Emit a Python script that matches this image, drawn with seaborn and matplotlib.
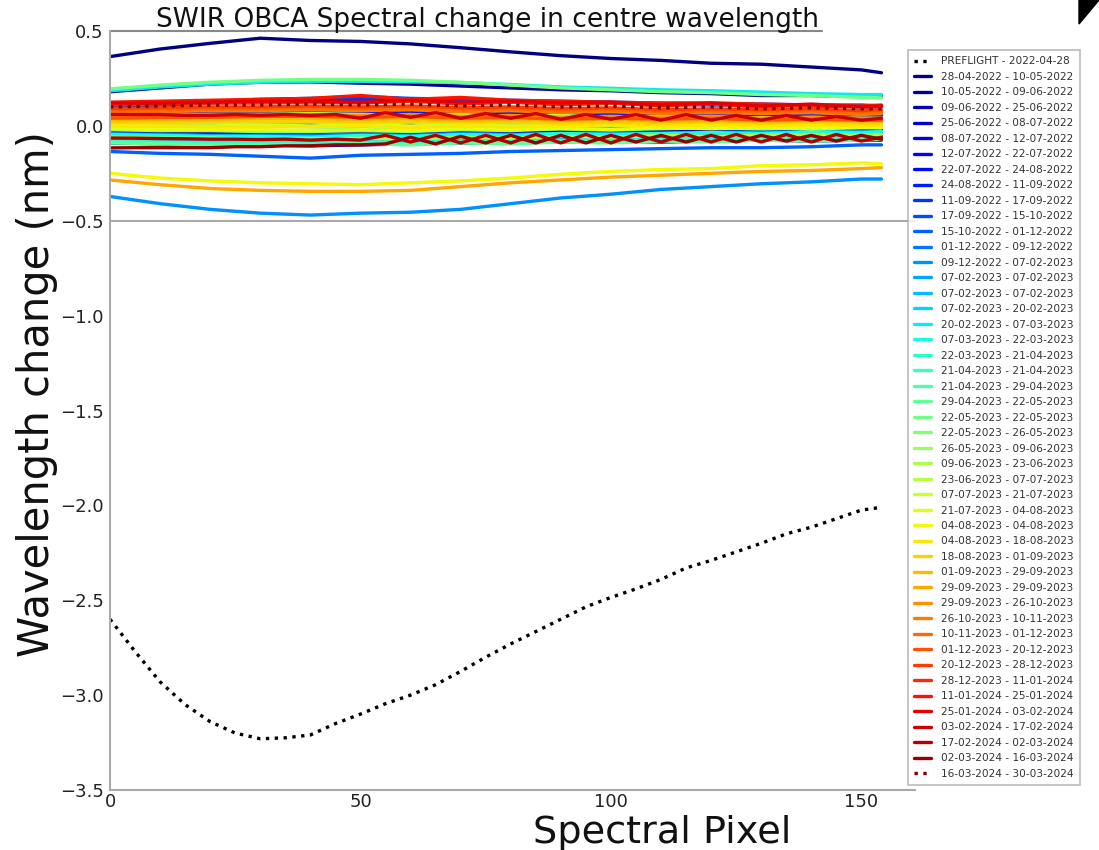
import numpy as np
import matplotlib
matplotlib.use("Agg")
import matplotlib.pyplot as plt
import seaborn as sns
from matplotlib.patches import Polygon

# ---------------- data ----------------
PIX = [0, 10, 20, 30, 40, 50, 60, 70, 80, 90, 100, 110, 120, 130, 140, 150, 154]
PIX_FINE = [0, 5, 10, 15, 20, 25, 30, 35, 40, 45, 50, 55, 60, 65, 70, 75, 80, 85,
            90, 95, 100, 105, 110, 115, 120, 125, 130, 135, 140, 145, 150, 154]

PREFLIGHT_LABEL = "PREFLIGHT - 2022-04-28"
PREFLIGHT = [-2.60, -2.77, -2.93, -3.05, -3.14, -3.20, -3.23, -3.225, -3.21, -3.15,
             -3.10, -3.045, -3.00, -2.945, -2.875, -2.80, -2.73, -2.665, -2.60, -2.535,
             -2.485, -2.44, -2.39, -2.33, -2.29, -2.245, -2.20, -2.15, -2.115, -2.07,
             -2.025, -2.01]

LABELS = [
    "28-04-2022 - 10-05-2022", "10-05-2022 - 09-06-2022", "09-06-2022 - 25-06-2022",
    "25-06-2022 - 08-07-2022", "08-07-2022 - 12-07-2022", "12-07-2022 - 22-07-2022",
    "22-07-2022 - 24-08-2022", "24-08-2022 - 11-09-2022", "11-09-2022 - 17-09-2022",
    "17-09-2022 - 15-10-2022", "15-10-2022 - 01-12-2022", "01-12-2022 - 09-12-2022",
    "09-12-2022 - 07-02-2023", "07-02-2023 - 07-02-2023", "07-02-2023 - 07-02-2023",
    "07-02-2023 - 20-02-2023", "20-02-2023 - 07-03-2023", "07-03-2023 - 22-03-2023",
    "22-03-2023 - 21-04-2023", "21-04-2023 - 21-04-2023", "21-04-2023 - 29-04-2023",
    "29-04-2023 - 22-05-2023", "22-05-2023 - 22-05-2023", "22-05-2023 - 26-05-2023",
    "26-05-2023 - 09-06-2023", "09-06-2023 - 23-06-2023", "23-06-2023 - 07-07-2023",
    "07-07-2023 - 21-07-2023", "21-07-2023 - 04-08-2023", "04-08-2023 - 04-08-2023",
    "04-08-2023 - 18-08-2023", "18-08-2023 - 01-09-2023", "01-09-2023 - 29-09-2023",
    "29-09-2023 - 29-09-2023", "29-09-2023 - 26-10-2023", "26-10-2023 - 10-11-2023",
    "10-11-2023 - 01-12-2023", "01-12-2023 - 20-12-2023", "20-12-2023 - 28-12-2023",
    "28-12-2023 - 11-01-2024", "11-01-2024 - 25-01-2024", "25-01-2024 - 03-02-2024",
    "03-02-2024 - 17-02-2024", "17-02-2024 - 02-03-2024", "02-03-2024 - 16-03-2024",
    "16-03-2024 - 30-03-2024",
]

S00 = [0.365, 0.405, 0.435, 0.462, 0.45, 0.445, 0.432, 0.412, 0.39, 0.37, 0.355, 0.345, 0.33, 0.325, 0.31, 0.295, 0.28]
S01 = [0.18, 0.20, 0.22, 0.23, 0.232, 0.225, 0.22, 0.21, 0.20, 0.19, 0.185, 0.175, 0.17, 0.16, 0.16, 0.155, 0.16]
S02 = [-0.09, -0.095, -0.10, -0.10, -0.105, -0.10, -0.095, -0.09, -0.09, -0.085, -0.08, -0.085, -0.08, -0.075, -0.08, -0.075, -0.075]
S03 = [0.0, 0.0, 0.005, 0.005, 0.005, 0.0, 0.005, 0.0, 0.0, -0.005, 0.0, -0.005, 0.0, 0.0, -0.005, 0.0, 0.0]
S04 = [-0.03, -0.03, -0.035, -0.035, -0.035, -0.03, -0.035, -0.025, -0.03, -0.025, -0.03, -0.025, -0.02, -0.025, -0.02, -0.025, -0.02]
S05 = [0.03, 0.035, 0.035, 0.04, 0.04, 0.04, 0.035, 0.04, 0.03, 0.035, 0.03, 0.035, 0.03, 0.025, 0.03, 0.025, 0.03]
S06 = [-0.06, -0.065, -0.07, -0.07, -0.075, -0.07, -0.065, -0.07, -0.06, -0.065, -0.055, -0.06, -0.055, -0.06, -0.05, -0.055, -0.05]
S07 = [0.06, 0.065, 0.07, 0.075, 0.075, 0.07, 0.075, 0.065, 0.07, 0.06, 0.065, 0.06, 0.055, 0.06, 0.055, 0.05, 0.055]
S08 = [0.10, 0.11, 0.12, 0.13, 0.135, 0.14, 0.135, 0.13, 0.125, 0.12, 0.12, 0.115, 0.11, 0.11, 0.105, 0.10, 0.10]
S09 = [0.11, 0.12, 0.13, 0.14, 0.145, 0.155, 0.145, 0.14, 0.135, 0.13, 0.125, 0.12, 0.12, 0.115, 0.11, 0.11, 0.105]
S10 = [-0.135, -0.145, -0.15, -0.16, -0.17, -0.155, -0.15, -0.145, -0.135, -0.13, -0.125, -0.12, -0.115, -0.115, -0.11, -0.10, -0.10]
S11 = [-0.04, -0.045, -0.05, -0.05, -0.05, -0.045, -0.05, -0.04, -0.045, -0.04, -0.035, -0.04, -0.035, -0.03, -0.035, -0.03, -0.03]
S12 = [-0.372, -0.41, -0.44, -0.46, -0.47, -0.46, -0.455, -0.44, -0.41, -0.38, -0.36, -0.335, -0.32, -0.305, -0.295, -0.28, -0.28]
S13 = [-0.05, -0.055, -0.06, -0.06, -0.06, -0.055, -0.06, -0.05, -0.055, -0.045, -0.05, -0.045, -0.04, -0.045, -0.04, -0.035, -0.04]
S14 = [0.02, 0.02, 0.025, 0.025, 0.03, 0.025, 0.02, 0.025, 0.02, 0.015, 0.02, 0.015, 0.02, 0.015, 0.01, 0.015, 0.01]
S15 = [-0.07, -0.075, -0.08, -0.08, -0.085, -0.08, -0.075, -0.08, -0.07, -0.075, -0.065, -0.07, -0.06, -0.065, -0.06, -0.055, -0.06]
S16 = [0.185, 0.205, 0.22, 0.23, 0.235, 0.235, 0.232, 0.228, 0.218, 0.205, 0.198, 0.19, 0.185, 0.178, 0.17, 0.165, 0.165]
S17 = [-0.045, -0.05, -0.055, -0.055, -0.06, -0.05, -0.055, -0.045, -0.05, -0.04, -0.045, -0.04, -0.035, -0.04, -0.03, -0.035, -0.03]
S18 = [-0.08, -0.085, -0.09, -0.09, -0.09, -0.085, -0.09, -0.08, -0.085, -0.075, -0.08, -0.07, -0.075, -0.065, -0.07, -0.065, -0.06]
S19 = [0.0, -0.005, -0.005, 0.0, -0.005, -0.01, -0.005, 0.0, -0.01, -0.005, 0.0, -0.005, 0.005, 0.0, -0.005, 0.0, 0.0]
S20 = [0.04, 0.045, 0.05, 0.05, 0.055, 0.05, 0.045, 0.05, 0.04, 0.045, 0.035, 0.04, 0.035, 0.04, 0.03, 0.035, 0.03]
S21 = [-0.09, -0.095, -0.10, -0.10, -0.10, -0.095, -0.10, -0.09, -0.095, -0.085, -0.09, -0.08, -0.085, -0.075, -0.08, -0.075, -0.07]
S22 = [0.195, 0.215, 0.23, 0.24, 0.245, 0.245, 0.24, 0.23, 0.215, 0.20, 0.19, 0.18, 0.175, 0.165, 0.16, 0.15, 0.148]
S23 = [-0.02, -0.025, -0.025, -0.03, -0.03, -0.025, -0.03, -0.02, -0.025, -0.015, -0.02, -0.015, -0.01, -0.015, -0.01, -0.005, -0.01]
S24 = [0.01, 0.015, 0.015, 0.02, 0.02, 0.015, 0.02, 0.01, 0.015, 0.01, 0.015, 0.005, 0.01, 0.005, 0.01, 0.005, 0.005]
S25 = [-0.06, -0.065, -0.065, -0.07, -0.07, -0.065, -0.07, -0.06, -0.065, -0.055, -0.06, -0.05, -0.055, -0.05, -0.045, -0.05, -0.045]
S26 = [0.05, 0.055, 0.06, 0.06, 0.065, 0.06, 0.055, 0.06, 0.05, 0.055, 0.045, 0.05, 0.045, 0.04, 0.045, 0.04, 0.04]
S27 = [0.0, 0.0, 0.0, 0.005, 0.0, 0.005, 0.0, 0.005, 0.0, 0.0, 0.005, 0.0, 0.005, 0.0, 0.0, 0.005, 0.0]
S28 = [-0.015, -0.02, -0.02, -0.02, -0.025, -0.02, -0.025, -0.015, -0.02, -0.015, -0.02, -0.01, -0.015, -0.01, -0.015, -0.01, -0.01]
S29 = [-0.25, -0.275, -0.29, -0.30, -0.305, -0.31, -0.30, -0.29, -0.275, -0.255, -0.24, -0.23, -0.225, -0.21, -0.205, -0.195, -0.20]
S30 = [0.0, 0.0, -0.005, -0.005, -0.005, 0.0, -0.01, 0.0, -0.005, 0.0, 0.005, 0.0, 0.005, 0.0, 0.005, 0.0, 0.005]
S31 = [0.02, 0.02, 0.025, 0.025, 0.025, 0.02, 0.025, 0.02, 0.02, 0.015, 0.02, 0.015, 0.02, 0.015, 0.02, 0.015, 0.015]
S32 = [0.03, 0.035, 0.035, 0.04, 0.04, 0.035, 0.04, 0.03, 0.035, 0.03, 0.035, 0.025, 0.03, 0.025, 0.03, 0.025, 0.025]
S33 = [-0.285, -0.31, -0.33, -0.34, -0.345, -0.345, -0.34, -0.32, -0.30, -0.285, -0.27, -0.26, -0.25, -0.24, -0.235, -0.225, -0.22]
S34 = [0.05, 0.055, 0.06, 0.06, 0.06, 0.055, 0.06, 0.05, 0.055, 0.045, 0.05, 0.045, 0.05, 0.04, 0.045, 0.04, 0.04]
S35 = [0.07, 0.075, 0.08, 0.08, 0.085, 0.08, 0.085, 0.075, 0.08, 0.07, 0.075, 0.065, 0.07, 0.065, 0.07, 0.06, 0.065]
S36 = [0.08, 0.085, 0.09, 0.09, 0.095, 0.09, 0.095, 0.085, 0.09, 0.08, 0.085, 0.075, 0.08, 0.075, 0.08, 0.07, 0.075]
S37 = [0.04, 0.045, 0.045, 0.05, 0.05, 0.045, 0.05, 0.04, 0.045, 0.035, 0.04, 0.035, 0.04, 0.03, 0.035, 0.03, 0.03]
S38 = [0.09, 0.095, 0.10, 0.10, 0.105, 0.10, 0.105, 0.095, 0.10, 0.09, 0.095, 0.085, 0.09, 0.085, 0.09, 0.08, 0.085]
S39 = [0.11, 0.115, 0.12, 0.12, 0.125, 0.12, 0.13, 0.115, 0.125, 0.11, 0.12, 0.105, 0.115, 0.10, 0.11, 0.10, 0.10]
S40 = [0.125, 0.13, 0.135, 0.14, 0.145, 0.16, 0.14, 0.15, 0.135, 0.13, 0.125, 0.12, 0.12, 0.115, 0.11, 0.105, 0.11]
S41 = [0.12, 0.12, 0.125, 0.13, 0.13, 0.125, 0.135, 0.125, 0.13, 0.12, 0.125, 0.11, 0.12, 0.105, 0.115, 0.10, 0.105]
S42 = [0.06, 0.06, 0.06, 0.055, 0.055, 0.06, 0.055, 0.06, 0.055, 0.06, 0.04, 0.07, 0.045, 0.07, 0.04, 0.065,
       0.04, 0.065, 0.035, 0.06, 0.035, 0.06, 0.03, 0.06, 0.03, 0.055, 0.03, 0.055, 0.03, 0.05, 0.03, 0.04]
S43 = [-0.064, -0.065, -0.067, -0.068, -0.07, -0.07, -0.072, -0.07, -0.075, -0.07, -0.075, -0.05, -0.085, -0.05, -0.09, -0.05,
       -0.09, -0.045, -0.09, -0.045, -0.09, -0.045, -0.085, -0.045, -0.085, -0.045, -0.085, -0.045, -0.085, -0.045, -0.08, -0.06]
S44 = [-0.116, -0.115, -0.115, -0.115, -0.115, -0.11, -0.11, -0.105, -0.105, -0.10, -0.10, -0.095, -0.06, -0.095, -0.055, -0.09,
       -0.05, -0.09, -0.05, -0.09, -0.05, -0.085, -0.05, -0.085, -0.05, -0.085, -0.05, -0.08, -0.05, -0.08, -0.05, -0.07]
S45 = [0.10, 0.105, 0.11, 0.11, 0.115, 0.11, 0.115, 0.105, 0.11, 0.10, 0.105, 0.095, 0.10, 0.09, 0.095, 0.09, 0.09]

SERIES = [S00, S01, S02, S03, S04, S05, S06, S07, S08, S09, S10, S11, S12, S13, S14, S15,
          S16, S17, S18, S19, S20, S21, S22, S23, S24, S25, S26, S27, S28, S29, S30, S31,
          S32, S33, S34, S35, S36, S37, S38, S39, S40, S41, S42, S43, S44, S45]

Y_TICKS = [-3.5, -3.0, -2.5, -2.0, -1.5, -1.0, -0.5, 0.0, 0.5]
X_TICKS = [0, 50, 100, 150]
TITLE = "SWIR OBCA Spectral change in centre wavelength"
XLABEL = "Spectral Pixel"
YLABEL = "Wavelength change (nm)"

# ---------------- style ----------------
sns.set_style("white")
plt.rcParams["font.family"] = ["DejaVu Sans"]

W, H = 1099, 850
fig = plt.figure(figsize=(W / 100, H / 100), dpi=100)
ax = fig.add_axes([110 / W, 60 / H, 805 / W, 759 / H])

colors = plt.cm.jet(np.linspace(0, 1, len(SERIES)))
LW = 2.4

sns.lineplot(x=PIX_FINE, y=PREFLIGHT, color="black", linewidth=LW, linestyle=":",
             label=PREFLIGHT_LABEL, ax=ax, errorbar=None)
for i, (vals, lab) in enumerate(zip(SERIES, LABELS)):
    xs = PIX_FINE if len(vals) == len(PIX_FINE) else PIX
    ls = ":" if i == len(SERIES) - 1 else "-"
    sns.lineplot(x=xs, y=vals, color=colors[i], linewidth=LW, linestyle=ls,
                 label=lab, ax=ax, errorbar=None)

ax.set_xlim(0, 160.7)
ax.set_ylim(-3.5, 0.5)
ax.set_yticks(Y_TICKS)
ax.set_xticks(X_TICKS)

spine_col = "#aaaaaa"
for s in ["left", "bottom"]:
    ax.spines[s].set_color(spine_col)
    ax.spines[s].set_linewidth(1.5)
ax.spines["right"].set_visible(False)
ax.spines["top"].set_visible(False)
ax.axhline(0.5, xmin=0, xmax=(822 - 110) / 805, color="#888888", lw=1.5, clip_on=False, zorder=0)
ax.axhline(-0.5, color=spine_col, lw=1.5, zorder=0)

ax.tick_params(axis="y", labelsize=13, labelcolor="#222222", length=0, pad=4.5)
ax.tick_params(axis="x", labelsize=13, labelcolor="#222222", length=3, direction="in",
               color=spine_col, pad=2)

fig.text(488 / W, 1 - 27 / H, TITLE, ha="center", va="baseline", fontsize=19, color="#111111")
ax.set_xlabel(XLABEL, fontsize=27.5, color="#111111")
ax.xaxis.label.set_va("center")
ax.xaxis.set_label_coords((662 - 110) / 805, (790 - 833) / 759)
ax.set_ylabel(YLABEL, fontsize=30, color="#111111")
ax.yaxis.label.set_va("center")
ax.yaxis.set_label_coords((37 - 110) / 805, (790 - 394) / 759)

leg = ax.legend(loc="upper left", bbox_to_anchor=(908 / W, 1 - 50 / H),
                bbox_transform=fig.transFigure, borderaxespad=0, fontsize=7.6,
                labelspacing=0.52, handlelength=1.6, handletextpad=0.95,
                borderpad=0.6, frameon=True, fancybox=False)
leg.get_frame().set_edgecolor(spine_col)
leg.get_frame().set_linewidth(1.2)
for t in leg.get_texts():
    t.set_color("#333333")

tri = Polygon([(1079 / W, 1.0), (1.0, 1.0), (1079 / W, 1 - 24 / H)],
              closed=True, transform=fig.transFigure, color="black")
fig.patches.append(tri)

fig.savefig("out.png", dpi=100)
